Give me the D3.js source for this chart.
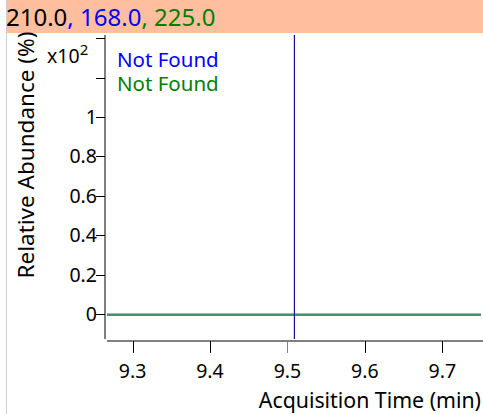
<!DOCTYPE html>
<html>
<head>
<meta charset="utf-8">
<script src="https://cdn.jsdelivr.net/npm/d3@7"></script>
<style>
  body { margin: 0; background: #fff; }
  text { font-family: "Noto Sans", "DejaVu Sans", sans-serif; }
</style>
</head>
<body>
<div id="chart"></div>
<script>
// header ions
const ionLabels = ['210.0', '168.0', '225.0']
const ionColors = ['#000000', '#0000ff', '#008000']

// y ticks (x10^2), 1.2 and 1.4 drawn unlabelled
const yTicks = [0, 0.2, 0.4, 0.6, 0.8, 1, 1.2, 1.4]
const xTicks = [9.3, 9.4, 9.5, 9.6, 9.7]

// traces: blue marker line and flat green trace
const markerTime = [9.509]
const greenTime = [9.267, 9.75]
const greenAbund = [0, 0]
const notFound = [{text: 'Not Found', color: '#0000ff'}, {text: 'Not Found', color: '#008000'}]

const W = 483, H = 414
const FS = 19.5     // tick labels
const svg = d3.select('#chart').append('svg')
    .attr('width', W).attr('height', H)

// header bar
svg.append('rect').attr('x', 6).attr('y', 0).attr('width', W - 6).attr('height', 33)
    .attr('fill', '#ffbf9f')
const head = svg.append('text').attr('x', 6).attr('y', 26).attr('font-size', 24)
ionLabels.forEach((d, i) => {
    head.append('tspan').attr('fill', ionColors[i]).text((i ? ', ' : '') + d)
})
// left frame line
svg.append('line').attr('x1', 6.5).attr('x2', 6.5).attr('y1', 0).attr('y2', H)
    .attr('stroke', '#d0d0d0')

const x = d3.scaleLinear().domain([9.267, 9.7525]).range([107, 483])
const y = d3.scaleLinear().domain([0, 1]).range([314, 117])

// y axis
const yAxis = svg.append('g').attr('transform', 'translate(105,0)')
yAxis.append('line').attr('x1', 0).attr('x2', 0).attr('y1', 35).attr('y2', 339)
    .attr('stroke', '#808080').attr('stroke-width', 2)
yAxis.selectAll('.yt').data(yTicks).join('line')
    .attr('x1', -9).attr('x2', 0)
    .attr('y1', d => Math.round(y(d)) + 0.5).attr('y2', d => Math.round(y(d)) + 0.5)
    .attr('stroke', '#000')
yAxis.selectAll('.yl').data(yTicks.filter(d => d <= 1)).join('text')
    .attr('x', -8).attr('y', d => y(d) + 7)
    .attr('text-anchor', 'end').attr('font-size', FS)
    .text(d => d3.format('~g')(d))

// x10^2
const mult = svg.append('text').attr('x', 47).attr('y', 63).attr('font-size', FS)
mult.append('tspan').text('x10')
mult.append('tspan').attr('dy', -8).attr('font-size', 15).text('2')

// y title
svg.append('text').attr('transform', `translate(34,${155}) rotate(-90)`)
    .attr('text-anchor', 'middle').attr('font-size', 22.5)
    .text('Relative Abundance (%)')

// x axis
const xAxis = svg.append('g').attr('transform', 'translate(0,341)')
xAxis.append('line').attr('x1', 107).attr('x2', W).attr('y1', 0).attr('y2', 0)
    .attr('stroke', '#808080').attr('stroke-width', 2)
xAxis.selectAll('.xt').data(xTicks).join('line')
    .attr('x1', d => Math.round(x(d)) + 0.5).attr('x2', d => Math.round(x(d)) + 0.5)
    .attr('y1', 0).attr('y2', 12)
    .attr('stroke', d => d === 9.5 ? '#808080' : '#000')
xAxis.selectAll('.xl').data(xTicks).join('text')
    .attr('x', d => x(d)).attr('y', 37)
    .attr('text-anchor', 'middle').attr('font-size', FS)
    .text(d => d.toFixed(1))
svg.append('text').attr('x', 481).attr('y', 408).attr('text-anchor', 'end')
    .attr('font-size', 21.3).text('Acquisition Time (min)')

// gray baseline then green trace
svg.append('line').attr('x1', 107).attr('x2', 481).attr('y1', y(0) - 0.5).attr('y2', y(0) - 0.5)
    .attr('stroke', '#b0b0b0')
svg.append('path')
    .datum(greenTime.map((t, i) => [t, greenAbund[i]]))
    .attr('d', d3.line().x(d => x(d[0])).y(d => y(d[1]) + 1))
    .attr('fill', 'none').attr('stroke', '#0b6b34').attr('stroke-width', 1.5)

// blue marker
svg.selectAll('.mk').data(markerTime).join('line')
    .attr('x1', d => x(d)).attr('x2', d => x(d))
    .attr('y1', 35).attr('y2', 339)
    .attr('stroke', '#1010a0').attr('stroke-width', 1.2)

svg.selectAll('.nf').data(notFound).join('text')
    .attr('x', 117).attr('y', (d, i) => 67 + i * 24)
    .attr('fill', d => d.color).attr('font-size', 20.5)
    .text(d => d.text)
</script>
</body>
</html>
